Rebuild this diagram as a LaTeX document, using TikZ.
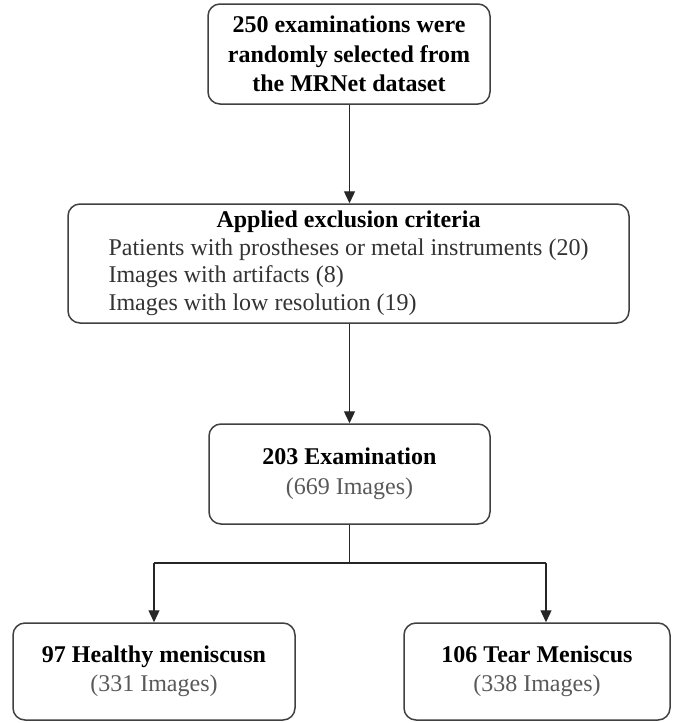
\documentclass[tikz,border=0pt]{standalone}
\usepackage{fontspec}
\setmainfont{Liberation Serif}
\usetikzlibrary{arrows.meta}
\begin{document}
\begin{tikzpicture}[x=1pt,y=-1pt,
  box/.style={draw=black!75, line width=1.5pt, rounded corners=12pt, fill=white, inner sep=0pt, align=center, font=\fontsize{24}{29.5}\selectfont},
  conn/.style={draw=black!85, line width=1.3pt},
  arr/.style={conn, -{Triangle[width=11pt,length=12pt]}}]
\useasboundingbox[fill=white] (0,0) rectangle (673,723);
\node[box, minimum width=282pt, minimum height=100pt] (b1) at (349,54)
  {\textbf{250 examinations were}\\ \textbf{randomly selected from}\\ \textbf{the MRNet dataset}};
\node[box, minimum width=561pt, minimum height=119pt] (b2) at (348.5,263.5)
  {\fontsize{24}{27.7}\selectfont\begin{tabular}{@{}l@{}}
   \multicolumn{1}{c}{\textbf{Applied exclusion criteria}}\\
   \textcolor{black!80}{Patients with prostheses or metal instruments (20)}\\
   \textcolor{black!80}{Images with artifacts (8)}\\
   \textcolor{black!80}{Images with low resolution (19)}
  \end{tabular}};
\node[box, minimum width=281pt, minimum height=100pt] (b3) at (349.5,474)
  {\textbf{203 Examination}\\ \textcolor{black!65}{(669 Images)}};
\node[box, minimum width=282pt, minimum height=97pt] (b4) at (154,671.5)
  {\textbf{97 Healthy meniscusn}\\ \textcolor{black!65}{(331 Images)}};
\node[box, minimum width=266pt, minimum height=97pt] (b5) at (537,671.5)
  {\textbf{106 Tear Meniscus}\\ \textcolor{black!65}{(338 Images)}};
\coordinate (split) at (349.5,563);
\coordinate (lsplit) at (154,563);
\coordinate (rsplit) at (546,563);
\draw[arr] (b1.south -| split) -- (b2.north -| split);
\draw[arr] (b2.south -| split) -- (b3.north -| split);
\draw[conn] (b3.south) -- (split);
\draw[conn] (lsplit) -- (rsplit);
\draw[arr] (lsplit) -- (b4.north);
\draw[arr] (rsplit) -- (rsplit |- b5.north);
\end{tikzpicture}
\end{document}
